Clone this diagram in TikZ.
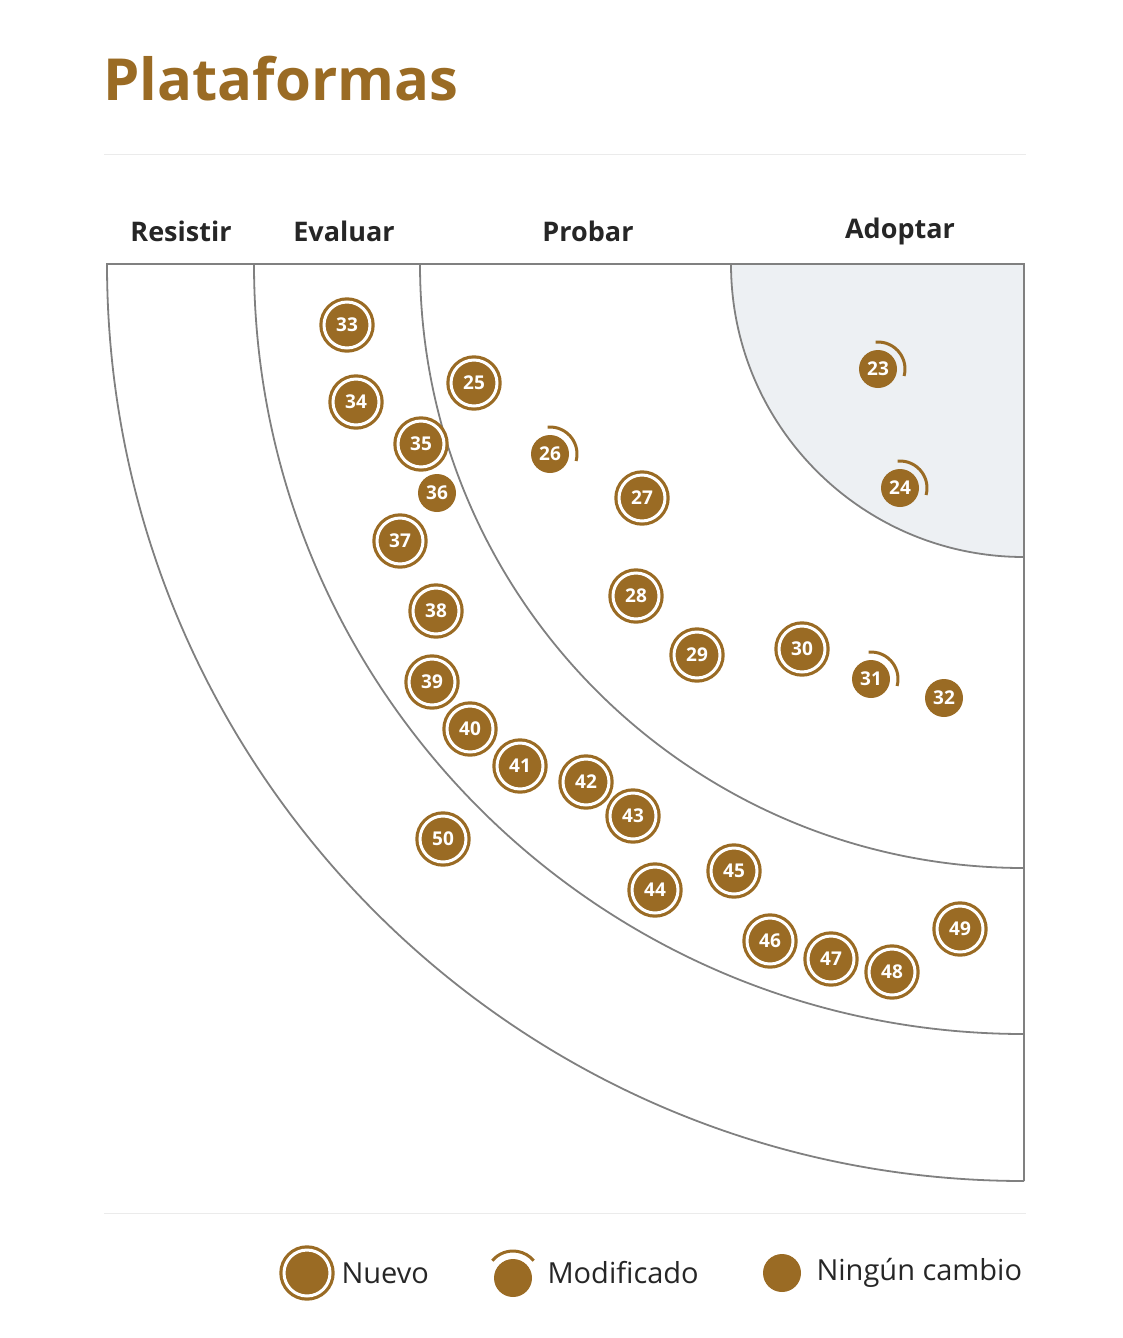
\documentclass[tikz,border=0pt]{standalone}
\usepackage{fontspec}
\setmainfont{Open Sans}
\definecolor{blip}{HTML}{9A6B24}
\definecolor{ring}{HTML}{808080}
\definecolor{adopt}{HTML}{EDF0F3}
\begin{document}
\begin{tikzpicture}[x=1pt, y=-1pt]
    \tikzset{
      newblip/.style={circle, fill=blip, draw=blip, double=white, double distance=3pt,
        line width=3.2pt, minimum size=46pt, inner sep=0pt, text=white,
        font=\fontsize{19}{19}\selectfont\bfseries},
      modblip/.style={circle, fill=blip, minimum size=38pt, inner sep=0pt, text=white,
        font=\fontsize{19}{19}\selectfont\bfseries},
      flatblip/.style={modblip},
      modarc/.style={draw=blip, line width=3pt},
      band/.style={draw=ring, line width=1.8pt},
      ringlabel/.style={font=\fontsize{27}{27}\selectfont\bfseries, text=black!85},
      legendtext/.style={anchor=west, font=\fontsize{29}{29}\selectfont, text=black!85}
    };
    \useasboundingbox (0,0) rectangle (1122,1338);

    % Title and rules
    \node[anchor=base west, text=blip, font=\fontsize{58}{58}\selectfont\bfseries] (title) at (100,100) {Plataformas};
    \draw[black!8, line width=1pt] (104,154) -- (1026,154);
    \draw[black!8, line width=1pt] (104,1213) -- (1026,1213);

    % Quadrant
    \coordinate (c) at (1024,264);
    \fill[adopt] (c) -- (731,264) arc (180:90:293) -- cycle;
    \foreach \r in {293, 604, 770, 917} { \draw[band] ([xshift=-\r pt]c) arc (180:90:\r); }
    \draw[band] (106,264) -- (c) -- (1024,1181);

    % Ring labels
    \node[ringlabel] (resistir) at (181,231) {Resistir};
    \node[ringlabel] (evaluar) at (344,231) {Evaluar};
    \node[ringlabel] (probar) at (588,231) {Probar};
    \node[ringlabel] (adoptar) at (900,231) {Adoptar};

    % Blips
    \foreach \n/\x/\y in {25/474/383, 27/642/498, 28/636/596, 29/697/655, 30/802/649,
        33/347/325, 34/356/402, 35/421/444, 37/400/541, 38/436/611, 39/432/682,
        40/470/729, 41/520/766, 42/586/782, 43/633/816, 44/655/890, 45/734/871,
        46/770/941, 47/831/959, 48/892/972, 49/960/929, 50/443/839}
      { \node[newblip] (b\n) at (\x,\y) {\n}; }
    \foreach \n/\x/\y in {23/878/369, 24/900/488, 26/550/454, 31/871/679}
      { \node[modblip] (b\n) at (\x,\y) {\n};
        \draw[modarc] ([shift={(265:27)}]b\n.center) arc (265:375:27); }
    \foreach \n/\x/\y in {32/944/698, 36/437/493}
      { \node[flatblip] (b\n) at (\x,\y) {\n}; }

    % Legend
    \node[newblip] (lnew) at (307,1273) {};
    \node[legendtext] (tnew) at (338,1273) {Nuevo};
    \node[modblip] (lmod) at (513,1278) {};
    \draw[modarc] ([shift={(220:27)}]lmod.center) arc (220:320:27);
    \node[legendtext] (tmod) at (544,1273) {Modificado};
    \node[flatblip] (lflat) at (782,1273) {};
    \node[legendtext] (tflat) at (813,1273) {Ningún cambio};
\end{tikzpicture}
\end{document}
